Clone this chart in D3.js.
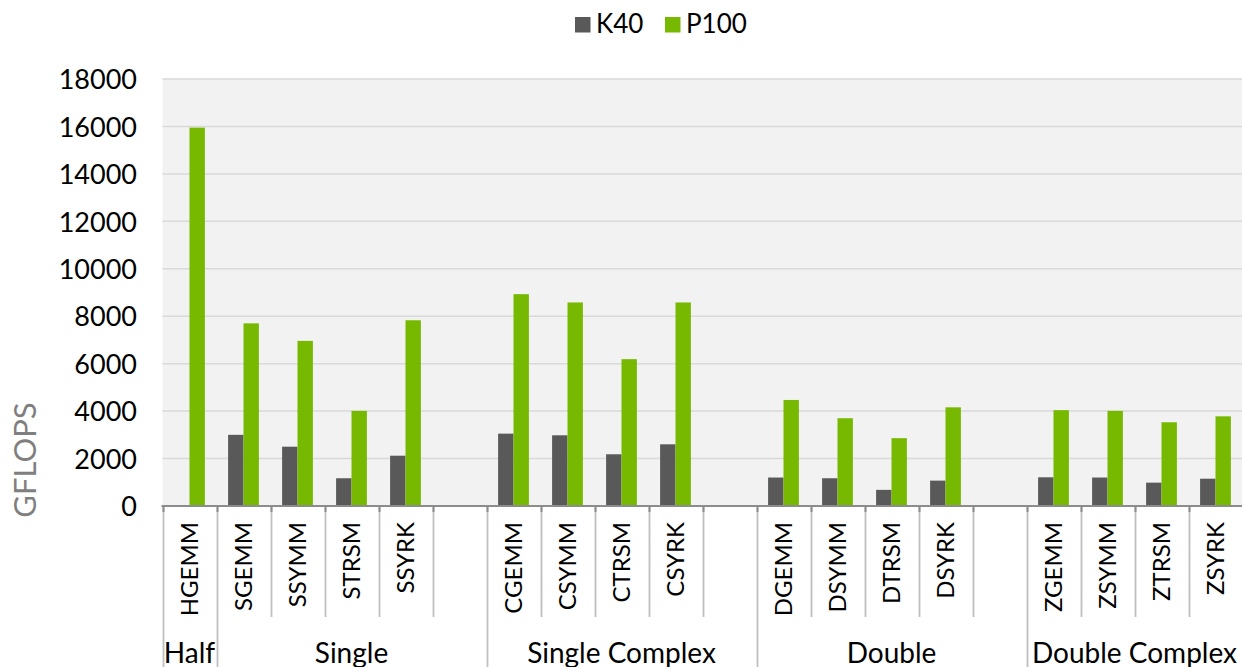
<!DOCTYPE html>
<html>
<head>
<meta charset="utf-8">
<script src="https://cdn.jsdelivr.net/npm/d3@7"></script>
<style>
  html, body { margin: 0; padding: 0; background: #ffffff; }
  svg { display: block; }
  text { font-family: Lato, "Noto Sans", sans-serif; fill: #000; }
</style>
</head>
<body>
<svg id="chart" width="1242" height="667"></svg>
<script>
// BLAS routine throughput, K40 vs P100 (GFLOPS). Null entries are spacer slots between precision groups.
const categories = ["HGEMM", "SGEMM", "SSYMM", "STRSM", "SSYRK", null,
                    "CGEMM", "CSYMM", "CTRSM", "CSYRK", null,
                    "DGEMM", "DSYMM", "DTRSM", "DSYRK", null,
                    "ZGEMM", "ZSYMM", "ZTRSM", "ZSYRK"];
const k40Values  = [null, 3000, 2500, 1170, 2120, null,
                    3050, 2980, 2180, 2600, null,
                    1200, 1170, 680, 1070, null,
                    1210, 1200, 985, 1150];
const p100Values = [15950, 7700, 6960, 4010, 7830, null,
                    8930, 8580, 6190, 8580, null,
                    4470, 3700, 2860, 4160, null,
                    4040, 4010, 3530, 3780];
const groupNames = ["Half", "Single", "Single Complex", "Double", "Double Complex"];
const groupSizes = [1, 5, 5, 5, 4];
const yTicks = [0, 2000, 4000, 6000, 8000, 10000, 12000, 14000, 16000, 18000];
const seriesNames = ["K40", "P100"];
const seriesColors = ["#595959", "#76b900"];

const svg = d3.select("#chart");

const plot = { left: 162.5, right: 1242.5, top: 79, bottom: 506 };

const x = d3.scaleBand()
  .domain(d3.range(categories.length))
  .range([plot.left, plot.right])
  .padding(0);

const y = d3.scaleLinear()
  .domain([0, 18000])
  .range([plot.bottom, plot.top]);

const barW = x.bandwidth() * 0.285;

// plot background
svg.append("rect")
  .attr("x", plot.left).attr("y", plot.top)
  .attr("width", plot.right - plot.left).attr("height", plot.bottom - plot.top)
  .attr("fill", "#f2f2f2");

// horizontal gridlines
svg.append("g")
  .selectAll("line")
  .data(yTicks.filter(d => d > 0))
  .join("line")
  .attr("x1", plot.left).attr("x2", plot.right)
  .attr("y1", d => y(d)).attr("y2", d => y(d))
  .attr("stroke", "#d9d9d9")
  .attr("stroke-width", 1.5);

// y axis labels
const yAxis = d3.axisLeft(y).tickValues(yTicks).tickSize(0).tickPadding(0).tickFormat(d3.format("d"));
const yG = svg.append("g")
  .attr("transform", `translate(137,0)`)
  .call(yAxis);
yG.select(".domain").remove();
yG.selectAll("text")
  .attr("font-size", 27)
  .attr("font-family", "Lato, 'Noto Sans', sans-serif")
  .attr("fill", "#000")
  .attr("dy", "0.36em");

// y axis title
svg.append("text")
  .attr("transform", `translate(36,${460}) rotate(-90)`)
  .attr("text-anchor", "middle")
  .attr("font-size", 31)
  .style("fill", "#7f7f7f")
  .text("GFLOPS");

// bars
const rows = categories.map((c, i) => ({ i, c, k40: k40Values[i], p100: p100Values[i] }));

svg.append("g")
  .selectAll("rect")
  .data(rows.filter(d => d.k40 != null))
  .join("rect")
  .attr("x", d => x(d.i) + x.bandwidth() / 2 - barW)
  .attr("y", d => y(d.k40))
  .attr("width", barW)
  .attr("height", d => y(0) - y(d.k40))
  .attr("fill", seriesColors[0]);

svg.append("g")
  .selectAll("rect")
  .data(rows.filter(d => d.p100 != null))
  .join("rect")
  .attr("x", d => x(d.i) + x.bandwidth() / 2)
  .attr("y", d => y(d.p100))
  .attr("width", barW)
  .attr("height", d => y(0) - y(d.p100))
  .attr("fill", seriesColors[1]);

// category axis: slot separators, group separators, labels
const boundaries = d3.range(categories.length).map(i => x(i));
const groupStarts = [];
let acc = 0;
groupSizes.forEach(n => { groupStarts.push(acc); acc += n; });
const groupBoundaryIdx = new Set(groupStarts);

const catRowBottom = 617;
const groupRowBottom = 667;

svg.append("g")
  .selectAll("line")
  .data(d3.range(categories.length))
  .join("line")
  .attr("x1", i => Math.round(x(i)) + 0.5).attr("x2", i => Math.round(x(i)) + 0.5)
  .attr("y1", plot.bottom)
  .attr("y2", i => groupBoundaryIdx.has(i) ? groupRowBottom : catRowBottom)
  .attr("stroke", "#bfbfbf")
  .attr("stroke-width", 1.8);

// tick stubs just below the axis
svg.append("g")
  .selectAll("line")
  .data(d3.range(categories.length))
  .join("line")
  .attr("x1", i => Math.round(x(i)) + 0.5).attr("x2", i => Math.round(x(i)) + 0.5)
  .attr("y1", plot.bottom).attr("y2", plot.bottom + 6)
  .attr("stroke", "#8c8c8c")
  .attr("stroke-width", 2);

// baseline
svg.append("line")
  .attr("x1", plot.left - 1).attr("x2", plot.right)
  .attr("y1", plot.bottom).attr("y2", plot.bottom)
  .attr("stroke", "#8c8c8c")
  .attr("stroke-width", 2);

// rotated category labels
svg.append("g")
  .selectAll("text")
  .data(rows.filter(d => d.c))
  .join("text")
  .attr("transform", d => `translate(${x(d.i) + x.bandwidth() / 2 + 8.5},522) rotate(-90)`)
  .attr("text-anchor", "end")
  .attr("font-size", 24)
  .text(d => d.c);

// group labels
svg.append("g")
  .selectAll("text")
  .data(groupNames.map((g, k) => ({ g, start: groupStarts[k], n: groupSizes[k] })))
  .join("text")
  .attr("x", d => (x(d.start) + x(d.start + d.n - 1) + x.bandwidth()) / 2)
  .attr("y", 663)
  .attr("text-anchor", "middle")
  .attr("font-size", 28)
  .text(d => d.g);

// legend
const legendItems = [
  { name: seriesNames[0], color: seriesColors[0], x: 575 },
  { name: seriesNames[1], color: seriesColors[1], x: 665 }
];
const lg = svg.append("g").selectAll("g").data(legendItems).join("g")
  .attr("transform", d => `translate(${d.x},17)`);
lg.append("rect").attr("width", 15.5).attr("height", 15.5).attr("fill", d => d.color);
lg.append("text").attr("x", 21).attr("y", 16).attr("font-size", 26).text(d => d.name);
</script>
</body>
</html>
